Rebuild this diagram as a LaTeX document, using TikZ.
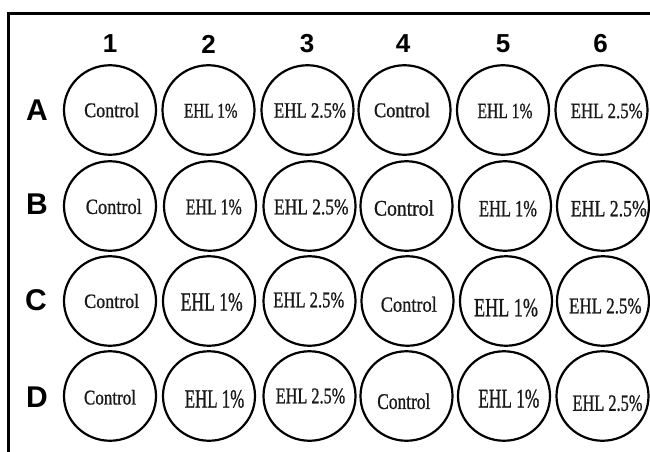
\documentclass[tikz,border=0pt]{standalone}
\usepackage{fontspec}
\usepackage{graphicx}
\setmainfont{Liberation Serif}
\newfontfamily\wellfont{Liberation Serif}[FakeBold=1]
\newfontfamily\hdrfont{Liberation Sans}
\usetikzlibrary{shapes.geometric}
\newcommand\wlab[3]{\resizebox{#1pt}{#2pt}{\wellfont #3}}
\tikzset{
  well/.style={ellipse, draw, line width=2.2pt, minimum width=92pt, minimum height=89.5pt, inner sep=0pt},
  welltext/.style={inner sep=0pt, text=black!90},
  colhead/.style={font=\hdrfont\bfseries\fontsize{26}{26}\selectfont, inner sep=0pt},
  rowhead/.style={font=\hdrfont\bfseries\fontsize{30}{30}\selectfont, inner sep=0pt},
  frame/.style={line width=2.7pt}
}
\begin{document}
\begin{tikzpicture}[x=1pt,y=-1pt]
\useasboundingbox (0,0) rectangle (650,452);
\clip (0,0) rectangle (650,452);
\fill[white] (0,0) rectangle (650,452);
\draw[frame] (8.3,13.3) rectangle (700,500);
% column headers
\node[colhead] (h1) at (110,44) {1};
\node[colhead] (h2) at (208.5,44) {2};
\node[colhead] (h3) at (307,44) {3};
\node[colhead] (h4) at (403,44) {4};
\node[colhead] (h5) at (503,44) {5};
\node[colhead] (h6) at (600.5,44) {6};
% row headers
\node[rowhead] (rA) at (37,110) {A};
\node[rowhead] (rB) at (37,204.5) {B};
\node[rowhead] (rC) at (36,300) {C};
\node[rowhead] (rD) at (37,397) {D};
% wells row A
\node[well] (A1) at (110,110) {};
\node[well] (A2) at (208.5,110) {};
\node[well] (A3) at (307.5,110) {};
\node[well] (A4) at (404.5,110) {};
\node[well] (A5) at (503,110) {};
\node[well] (A6) at (601.5,110) {};
% row B
\node[well] (B1) at (110,206) {};
\node[well] (B2) at (210,206) {};
\node[well] (B3) at (309.5,206) {};
\node[well] (B4) at (406.5,206) {};
\node[well] (B5) at (505,206) {};
\node[well] (B6) at (603,206) {};
% row C
\node[well] (C1) at (110,301) {};
\node[well] (C2) at (209,301) {};
\node[well] (C3) at (309.5,301) {};
\node[well] (C4) at (407.5,301) {};
\node[well] (C5) at (506,301) {};
\node[well] (C6) at (603,301) {};
% row D
\node[well] (D1) at (110,396) {};
\node[well] (D2) at (209,396) {};
\node[well] (D3) at (309.5,396) {};
\node[well] (D4) at (406.5,396) {};
\node[well] (D5) at (504,396) {};
\node[well] (D6) at (602.5,396) {};
% labels
\node[welltext] (tA1) at (111.7,110) {\wlab{55}{14.5}{Control}};
\node[welltext] (tA2) at (210.8,110.8) {\wlab{53.5}{14}{EHL 1\%}};
\node[welltext] (tA3) at (310,110.5) {\wlab{72}{14.5}{EHL 2.5\%}};
\node[welltext] (tA4) at (402,110) {\wlab{56}{14.5}{Control}};
\node[welltext] (tA5) at (505,111) {\wlab{55}{14.5}{EHL 1\%}};
\node[welltext] (tA6) at (606.7,111) {\wlab{72}{14.5}{EHL 2.5\%}};
\node[welltext] (tB1) at (113.8,206.5) {\wlab{56}{15}{Control}};
\node[welltext] (tB2) at (213.8,207) {\wlab{56}{15}{EHL 1\%}};
\node[welltext] (tB3) at (311.3,207) {\wlab{74.5}{15}{EHL 2.5\%}};
\node[welltext] (tB4) at (404,208) {\wlab{60}{15.5}{Control}};
\node[welltext] (tB5) at (508,208.7) {\wlab{58}{15.5}{EHL 1\%}};
\node[welltext] (tB6) at (608.8,208.7) {\wlab{76}{15.5}{EHL 2.5\%}};
\node[welltext] (tC1) at (111.7,301) {\wlab{55}{14}{Control}};
\node[welltext] (tC2) at (211.7,302) {\wlab{62}{17.5}{EHL 1\%}};
\node[welltext] (tC3) at (308.8,300) {\wlab{71}{15}{EHL 2.5\%}};
\node[welltext] (tC4) at (408.8,304.3) {\wlab{56}{15}{Control}};
\node[welltext] (tC5) at (506,307.7) {\wlab{64}{17.5}{EHL 1\%}};
\node[welltext] (tC6) at (605.3,306) {\wlab{72.5}{15}{EHL 2.5\%}};
\node[welltext] (tD1) at (110,397.3) {\wlab{52}{14.5}{Control}};
\node[welltext] (tD2) at (214.5,399) {\wlab{59.5}{17.5}{EHL 1\%}};
\node[welltext] (tD3) at (310.5,396) {\wlab{69.5}{15}{EHL 2.5\%}};
\node[welltext] (tD4) at (403.8,401.3) {\wlab{53}{15.5}{Control}};
\node[welltext] (tD5) at (508.8,398.7) {\wlab{61}{18}{EHL 1\%}};
\node[welltext] (tD6) at (607.5,403.2) {\wlab{70}{15.5}{EHL 2.5\%}};
\end{tikzpicture}
\end{document}
